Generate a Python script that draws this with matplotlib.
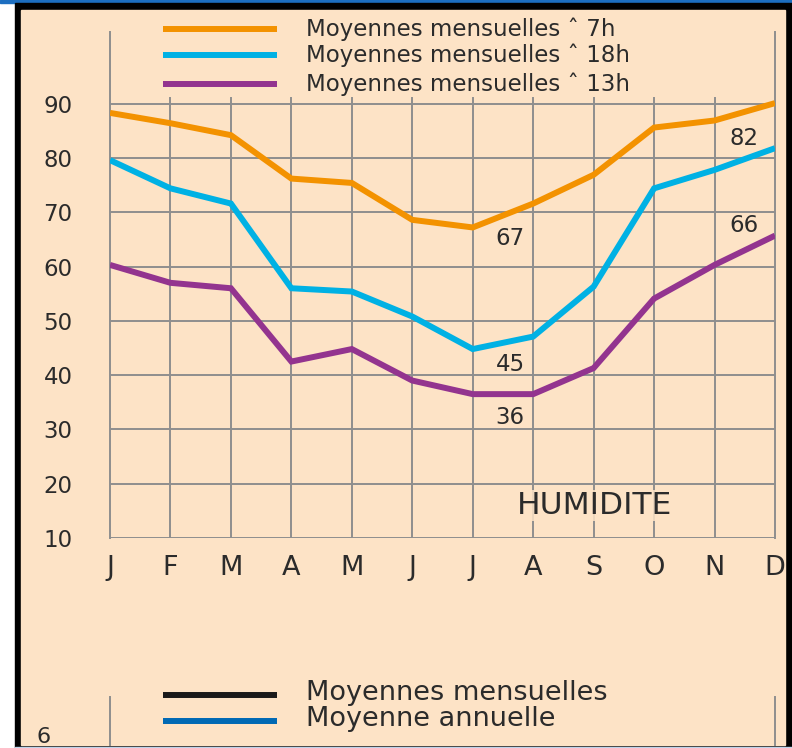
import matplotlib
matplotlib.use('Agg')
import matplotlib.pyplot as plt
from matplotlib.lines import Line2D
from matplotlib.patches import Rectangle

# monthly humidity (%)
months = ['J', 'F', 'M', 'A', 'M', 'J', 'J', 'A', 'S', 'O', 'N', 'D']
h7 = [88.3, 86.4, 84.2, 76.2, 75.4, 68.6, 67.2, 71.6, 76.9, 85.6, 86.9, 90.1]
h18 = [79.6, 74.4, 71.6, 56.0, 55.4, 50.8, 44.8, 47.1, 56.3, 74.4, 77.8, 81.8]
h13 = [60.3, 57.0, 56.0, 42.5, 44.8, 39.0, 36.5, 36.5, 41.3, 54.1, 60.3, 65.7]
yticks = [10, 20, 30, 40, 50, 60, 70, 80, 90]

labels = ['Moyennes mensuelles ˆ 7h', 'Moyennes mensuelles ˆ 18h',
          'Moyennes mensuelles ˆ 13h']
colors = ['#F39200', '#00B1E4', '#93348F']
peach = '#FDE3C6'
grid = '#8E8E8E'
txt = '#2B2B2B'

W, H = 792, 748
fig = plt.figure(figsize=(W / 100, H / 100), dpi=100)
fig.patch.set_facecolor('white')


def fx(px):
    return px / W


def fy(py):
    return 1 - py / H


# frame: blue strip, black border, peach panel
fig.add_artist(Rectangle((0, fy(3)), 1, 3 / H, color='#1C6EC0', zorder=0))
fig.add_artist(Rectangle((fx(15), 0), 1 - fx(15), fy(3), color='black', zorder=0))
fig.add_artist(Rectangle((fx(21), fy(745)), fx(785) - fx(21), fy(10) - fy(745),
                         color=peach, zorder=0))
fig.add_artist(Rectangle((fx(15), 0), 1 - fx(15), 1.5 / H, color='#BFD3EA', zorder=1))

ax = fig.add_axes([fx(110), fy(538), fx(775) - fx(110), fy(32) - fy(538)])
ax.set_facecolor('none')
x = list(range(len(months)))
ax.set_xlim(0, len(months) - 1)
ax.set_ylim(10, 103.2)

# grid
for v in yticks:
    ax.plot([0, 11], [v, v], color=grid, lw=1.4, zorder=1)
for i in x[1:-1]:
    ax.plot([i, i], [10, 91], color=grid, lw=1.4, zorder=1)
for s in ['top', 'bottom']:
    ax.spines[s].set_visible(False)
ax.spines['left'].set_color(grid)
ax.spines['right'].set_color(grid)
ax.spines['left'].set_linewidth(1.4)
ax.spines['right'].set_linewidth(1.4)

for vals, c in zip([h7, h18, h13], colors):
    ax.plot(x, vals, color=c, lw=4.3, solid_joinstyle='miter',
            solid_capstyle='butt', zorder=3)

ax.set_xticks(x)
ax.set_xticklabels(months, fontsize=19.5, color=txt)
ax.set_yticks(yticks)
ax.set_yticklabels([str(v) for v in yticks], fontsize=16.5, color=txt)
ax.tick_params(length=0)
ax.tick_params(axis='x', pad=12)
ax.tick_params(axis='y', pad=27)

# value labels
ax.annotate('67', (6, h7[6]), xytext=(27, -8), textcoords='offset points',
            ha='center', va='center', fontsize=16.5, color=txt)
ax.annotate('45', (6, h18[6]), xytext=(27, -11), textcoords='offset points',
            ha='center', va='center', fontsize=16.5, color=txt)
ax.annotate('36', (6, h13[6]), xytext=(27, -17), textcoords='offset points',
            ha='center', va='center', fontsize=16.5, color=txt)
ax.annotate('82', (11, h18[11]), xytext=(-22, 7), textcoords='offset points',
            ha='center', va='center', fontsize=16.5, color=txt)
ax.annotate('66', (11, h13[11]), xytext=(-22, 7), textcoords='offset points',
            ha='center', va='center', fontsize=16.5, color=txt)

ax.text(8.01, 16.0, 'HUMIDITE', ha='center', va='center', fontsize=22.5,
        color=txt, zorder=2,
        bbox=dict(facecolor=peach, edgecolor='none', alpha=0.85, pad=1))

# top legend
for py, lab, c in zip([29, 55, 84], labels, colors):
    fig.add_artist(Line2D([fx(163), fx(277)], [fy(py), fy(py)], color=c,
                          lw=4.3, solid_capstyle='butt'))
    fig.text(fx(306), fy(py), lab, fontsize=16.5, color=txt, va='center')

# start of the next chart below
for px in [110, 775]:
    fig.add_artist(Line2D([fx(px), fx(px)], [fy(745), fy(697)], color=grid, lw=1.4))
for py, lab, c in zip([693, 719], ['Moyennes mensuelles', 'Moyenne annuelle'],
                      ['#1A1A1A', '#0069B4']):
    fig.add_artist(Line2D([fx(163), fx(277)], [fy(py + 2), fy(py + 2)], color=c,
                          lw=4.3, solid_capstyle='butt'))
    fig.text(fx(306), fy(py), lab, fontsize=19.5, color=txt, va='center')
fig.text(fx(37), fy(737), '6', fontsize=16, color=txt, va='center')

fig.savefig('out.png', dpi=100, facecolor=fig.get_facecolor())
